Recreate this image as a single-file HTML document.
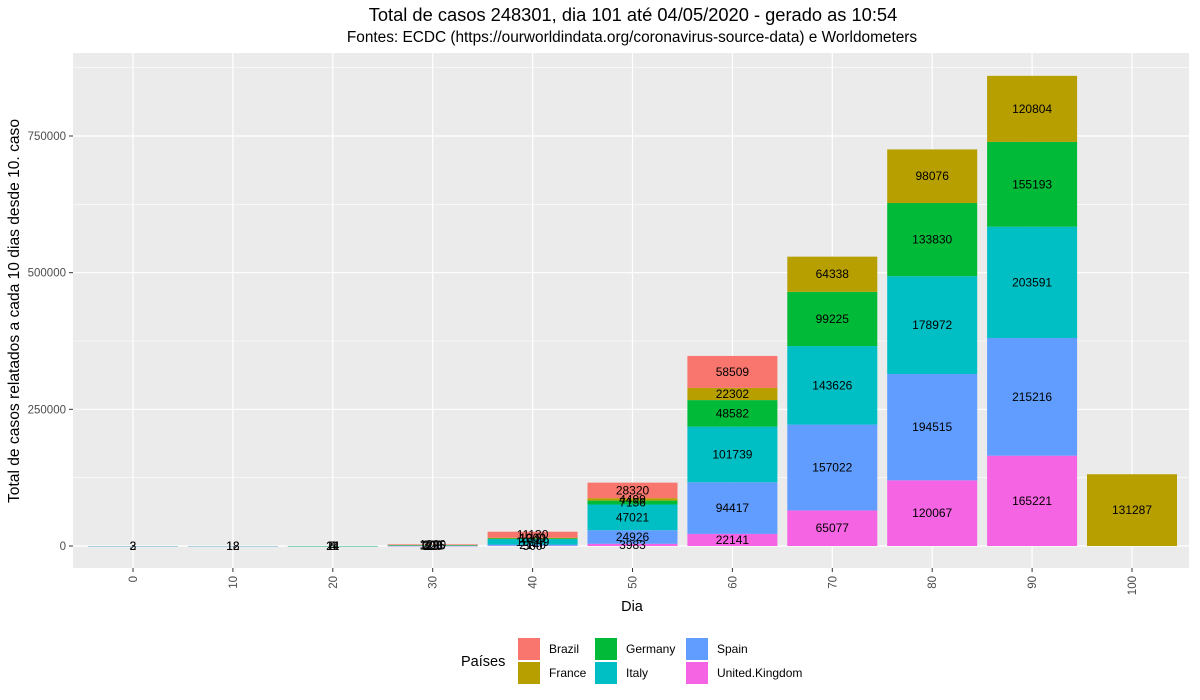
<!DOCTYPE html>
<html><head><meta charset="utf-8"><style>
body{margin:0;background:#fff;}
svg{font-family:"Liberation Sans",sans-serif;display:block}
</style></head><body>
<svg id="chart" width="1200" height="700" viewBox="0 0 1200 700">
<text x="633" y="21" text-anchor="middle" font-size="18.3" fill="#000">Total de casos 248301, dia 101 até 04/05/2020 - gerado as 10:54</text>
<text x="632" y="42" text-anchor="middle" font-size="15.4" fill="#000">Fontes: ECDC (https://ourworldindata.org/coronavirus-source-data) e Worldometers</text>
<rect x="73" y="53" width="1116" height="515" fill="#ebebeb"/>
<g id="grid"></g><g id="bars"></g><g id="labels"></g><g id="axes"></g>
<text transform="translate(19,311) rotate(-90)" text-anchor="middle" font-size="15.6" fill="#000">Total de casos relatados a cada 10 dias desde 10. caso</text>
<text x="632" y="611" text-anchor="middle" font-size="14.5" fill="#000">Dia</text>
<g id="legend"></g>
</svg>
<script>
const days=[0,10,20,30,40,50,60,70,80,90,100];
const countries=["United.Kingdom","Spain","Italy","Germany","France","Brazil"];
const colors=["#F564E3","#619CFF","#00BFC4","#00BA38","#B79F00","#F8766D"];
const ukVals=[2,12,4,25,500,3983,22141,65077,120067,165221,0];
const spainVals=[0,0,5,125,2140,24926,94417,157022,194515,215216,0];
const italyVals=[3,18,21,1125,10149,47021,101739,143626,178972,203591,0];
const germanyVals=[0,0,14,200,1049,7156,48582,99225,133830,155193,0];
const franceVals=[0,0,0,300,1200,4499,22302,64338,98076,120804,131287];
const brazilVals=[0,0,0,1200,11130,28320,58509,0,0,0,0];
const yTicks=[0,250000,500000,750000];
const yTickLabels=["0","250000","500000","750000"];
const series=[ukVals,spainVals,italyVals,germanyVals,franceVals,brazilVals];
const NS="http://www.w3.org/2000/svg";
const y=v=>546-v*410/750000;
const x=d=>133+d*9.99;
const bw=90;
function mk(t,a,p){const e=document.createElementNS(NS,t);for(const k in a)e.setAttribute(k,a[k]);p.appendChild(e);return e;}
const grid=document.getElementById('grid'),bars=document.getElementById('bars'),labels=document.getElementById('labels'),axes=document.getElementById('axes');
for(let i=0;i<yTicks.length;i++){
  const mv=yTicks[i]+125000;
  if(y(mv)>53){const m=mk('line',{x1:73,x2:1189,y1:y(mv),y2:y(mv),stroke:'#fff','stroke-width':0.6},grid);
  }
  const g=mk('line',{x1:73,x2:1189,y1:y(yTicks[i]),y2:y(yTicks[i]),stroke:'#fff','stroke-width':1.2},grid);
  
  const tk=mk('line',{x1:69,x2:73,y1:y(yTicks[i]),y2:y(yTicks[i]),stroke:'#333','stroke-width':1},axes);
  
  const t=mk('text',{x:66,y:y(yTicks[i])+4,'text-anchor':'end','font-size':11.5,fill:'#4d4d4d'},axes);
  t.textContent=yTickLabels[i];
  
}
days.forEach((d,i)=>{
  const g=mk('line',{x1:x(d),x2:x(d),y1:53,y2:568,stroke:'#fff','stroke-width':1.2},grid);
  
  const tk=mk('line',{x1:x(d),x2:x(d),y1:568,y2:572,stroke:'#333','stroke-width':1},axes);
  
  const t=mk('text',{transform:`translate(${x(d)+4},576) rotate(-90)`,'text-anchor':'end','font-size':11.5,fill:'#4d4d4d'},axes);
  t.textContent=String(d);
  
  let cum=0;
  series.forEach((s,j)=>{
    const v=s[i];
    if(v<=0)return;
    const r=mk('rect',{x:x(d)-bw/2,y:y(cum+v),width:bw,height:Math.max(y(cum)-y(cum+v),0.3),fill:colors[j]},bars);
    
    
    const l=mk('text',{x:x(d),y:y(cum+v/2)+4,'text-anchor':'middle','font-size':12,fill:'#000'},labels);
    l.textContent=String(v);
    
    
    cum+=v;
  });
});
const lg=document.getElementById('legend');
const lt=mk('text',{x:461,y:666,'font-size':14.5,fill:'#000'},lg);
lt.textContent='Países';

const legOrder=[["Brazil",5],["France",4],["Germany",3],["Italy",2],["Spain",1],["United.Kingdom",0]];
const colX=[518,595,686];
legOrder.forEach((o,k)=>{
  const cx=colX[Math.floor(k/2)],cy=638+(k%2)*24;
  const r=mk('rect',{x:cx,y:cy,width:22,height:22,fill:colors[o[1]]},lg);
  
  const t=mk('text',{x:cx+31,y:cy+15,'font-size':12,fill:'#000'},lg);
  t.textContent=o[0];
  
});
</script>
</body></html>
